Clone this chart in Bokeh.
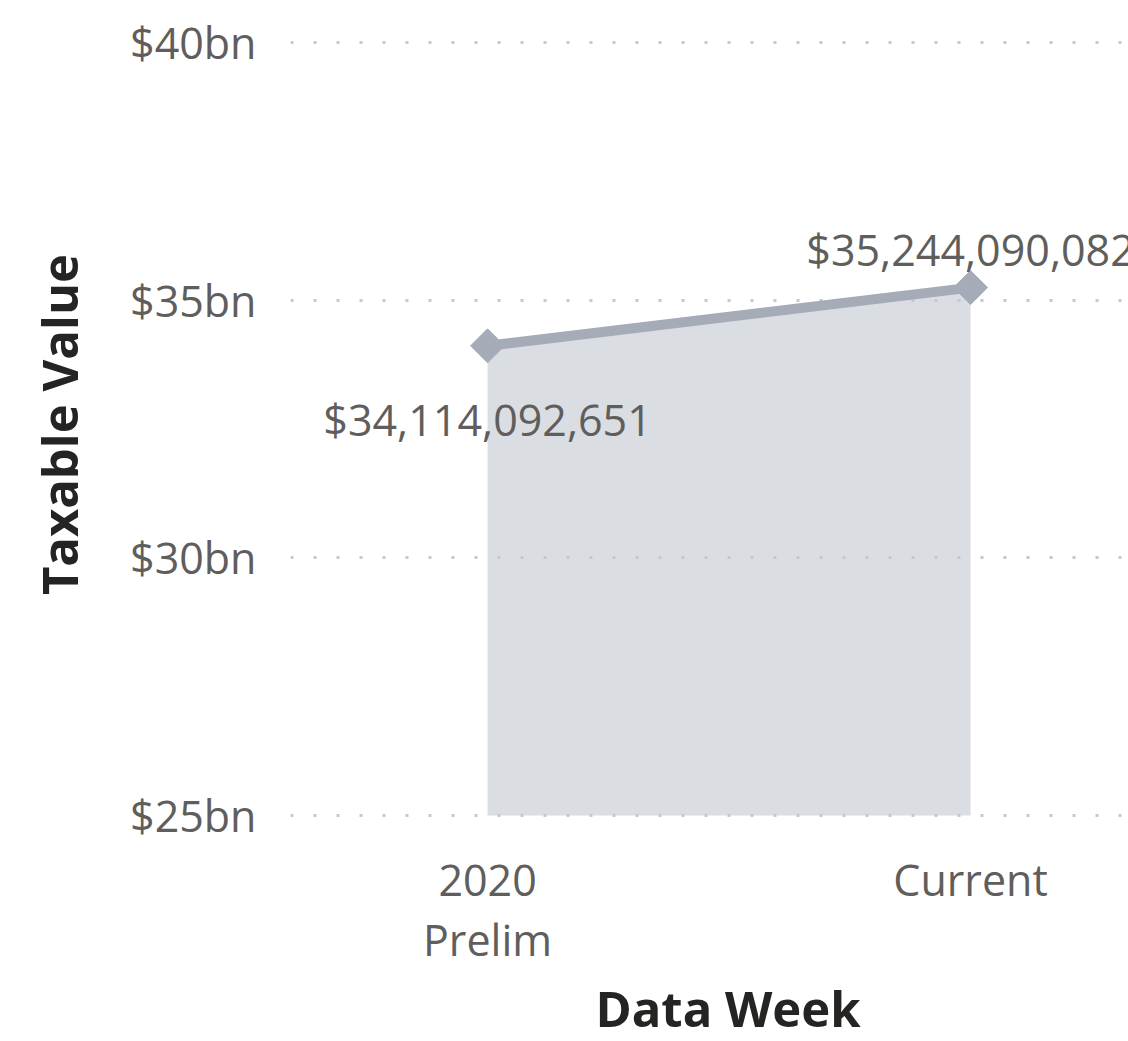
from bokeh.plotting import figure
from bokeh.models import FixedTicker, ColumnDataSource, Range1d, Title
from bokeh.embed import file_html
from bokeh.resources import INLINE
from bokeh.core.properties import value
import numpy as np

# ---- data ----
categories = ["2020\nPrelim", "Current"]
taxable_values = [34114092651, 35244090082]
y_ticks = [25e9, 30e9, 35e9, 40e9]
y_tick_labels = ["$25bn", "$30bn", "$35bn", "$40bn"]

x_pos = list(range(len(categories)))
labels = ["${:,}".format(v) for v in taxable_values]

FONT = "Open Sans"
LABEL_GRAY = "#605E5C"
TITLE_COLOR = "#252423"
LINE_COLOR = "#A5ACB8"
AREA_COLOR = "#DADDE2"
GRID_COLOR = "#C8C8C8"

p = figure(width=1128, height=1041, output_backend="svg", toolbar_location=None,
           x_range=Range1d(-0.408, 1.327), y_range=Range1d(24.942e9, 40.233e9),
           min_border_left=290, min_border_right=0, min_border_top=30, min_border_bottom=223)
p.outline_line_color = None
p.background_fill_color = "white"
p.border_fill_color = "white"

src = ColumnDataSource(dict(x=x_pos, y=taxable_values, label=labels))

area = p.varea(x="x", y1=y_ticks[0], y2="y", source=src, fill_color=AREA_COLOR, level="underlay")
ln = p.line(x="x", y="y", source=src, line_color=LINE_COLOR, line_width=10, level="annotation")
mk = p.scatter(x="x", y="y", source=src, marker="square", angle=np.pi / 4, size=24,
               fill_color=LINE_COLOR, line_color=LINE_COLOR, level="annotation")

src0 = ColumnDataSource(dict(x=x_pos[:1], y=taxable_values[:1], label=labels[:1]))
src1 = ColumnDataSource(dict(x=x_pos[1:], y=taxable_values[1:], label=labels[1:]))
p.text(x="x", y="y", text="label", source=src0, text_font=value(FONT), text_font_size="43px",
       text_color=LABEL_GRAY, text_align="center", text_baseline="top", y_offset=44, level="annotation")
p.text(x="x", y="y", text="label", source=src1, text_font=value(FONT), text_font_size="43px",
       text_color=LABEL_GRAY, text_align="center", text_baseline="bottom", y_offset=-9, level="annotation")

# grids
p.xgrid.grid_line_color = None
p.ygrid.ticker = FixedTicker(ticks=y_ticks)
p.ygrid.grid_line_color = GRID_COLOR
p.ygrid.grid_line_width = 3
p.ygrid.grid_line_dash = "3 20"
p.ygrid.level = "glyph"

# y axis
ya = p.yaxis[0]
ya.ticker = FixedTicker(ticks=y_ticks)
ya.major_label_overrides = {t: l for t, l in zip(y_ticks, y_tick_labels)}
ya.axis_line_color = None
ya.major_tick_line_color = None
ya.minor_tick_line_color = None
ya.major_tick_out = 0
ya.major_label_standoff = 34
ya.major_label_text_font = FONT
ya.major_label_text_font_size = "43px"
ya.major_label_text_color = LABEL_GRAY
ya.axis_label = "Taxable Value"
ya.axis_label_text_font = FONT
ya.axis_label_text_font_style = "bold"
ya.axis_label_text_font_size = "49px"
ya.axis_label_text_color = TITLE_COLOR
ya.axis_label_standoff = 35

# x axis
xa = p.xaxis[0]
xa.ticker = FixedTicker(ticks=x_pos)
xa.major_label_overrides = {i: c for i, c in zip(x_pos, categories)}
xa.axis_line_color = None
xa.major_tick_line_color = None
xa.minor_tick_line_color = None
xa.major_tick_out = 0
xa.major_label_standoff = 31
xa.major_label_text_font = FONT
xa.major_label_text_font_size = "43px"
xa.major_label_text_color = LABEL_GRAY
xa.major_label_text_line_height = 1.03

# x axis title, as a title below the axis, shifted to sit under the categories
x_title = Title(text="Data Week", align="left", offset=305, standoff=0,
                text_font=FONT, text_font_style="bold", text_font_size="49px",
                text_color=TITLE_COLOR)
p.add_layout(x_title, "below")

open("out.html", "w").write(file_html(p, INLINE))
